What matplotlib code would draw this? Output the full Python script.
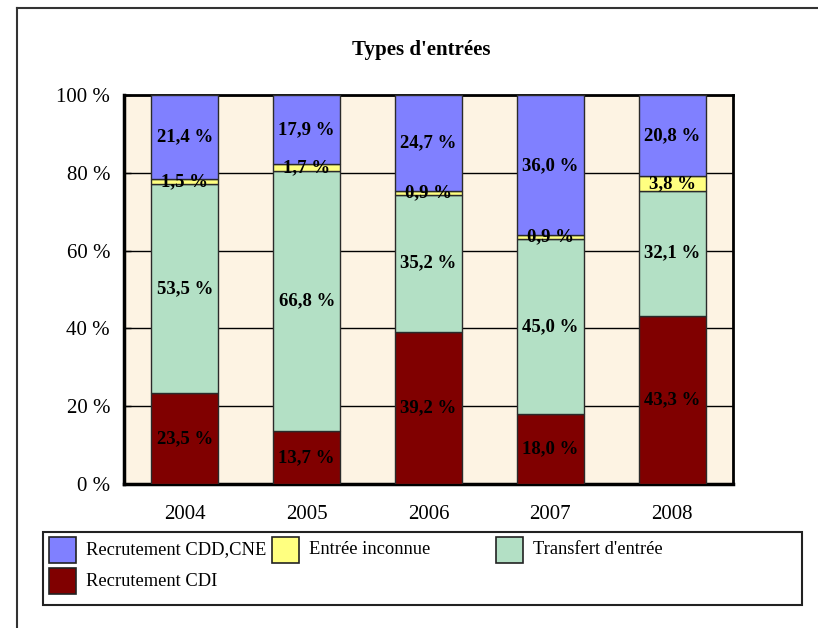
import matplotlib

matplotlib.use("Agg")
import matplotlib.pyplot as plt
import numpy as np
from matplotlib.patches import Rectangle
from matplotlib.lines import Line2D

# ── data ────────────────────────────────────────────────────────────────────
years = ["2004", "2005", "2006", "2007", "2008"]
recrut_cdi = [23.5, 13.7, 39.2, 18.0, 43.3]
transfert = [53.5, 66.8, 35.2, 45.0, 32.1]
inconnue = [1.5, 1.7, 0.9, 0.9, 3.8]
recrut_cdd = [21.4, 17.9, 24.7, 36.0, 20.8]
y_ticks = [0, 20, 40, 60, 80, 100]

# stacking order bottom -> top
series = [
    ("Recrutement CDI", recrut_cdi, "#800000"),
    ("Transfert d'entrée", transfert, "#B3E0C5"),
    ("Entrée inconnue", inconnue, "#FFFF80"),
    ("Recrutement CDD,CNE", recrut_cdd, "#8080FF"),
]
# legend order (row by row as in the original)
legend_order = ["Recrutement CDD,CNE", "Entrée inconnue", "Transfert d'entrée", "Recrutement CDI"]

FONT = "Liberation Serif"
W, H = 818, 628


def fx(px):
    return px / W


def fy(py):
    return 1 - py / H


fig = plt.figure(figsize=(W / 100, H / 100), dpi=100)
fig.patch.set_facecolor("white")

# outer frame (left + top lines)
fig.add_artist(Line2D([fx(17), fx(17)], [fy(8), 0], color="#333333", lw=1.5))
fig.add_artist(Line2D([fx(17), 1], [fy(8), fy(8)], color="#333333", lw=1.5))

ax = fig.add_axes([fx(124), fy(484), fx(733) - fx(124), fy(95) - fy(484)])
ax.set_facecolor("#FDF3E3")

x = np.arange(len(years))
bottom = np.zeros(len(years))
for name, vals, color in series:
    vals = np.array(vals)
    ax.bar(x, vals, width=0.55, bottom=bottom, color=color, edgecolor="#2a2a2a",
           linewidth=1.0, zorder=3)
    for xi, b, v in zip(x, bottom, vals):
        ax.text(xi, b + v / 2, f"{v:.1f} %".replace(".", ","), ha="center", va="center",
                fontsize=13.5, fontweight="bold", family=FONT, color="black", zorder=4)
    bottom += vals

ax.set_xlim(-0.5, len(years) - 0.5)
ax.set_ylim(0, 100)
ax.set_yticks(y_ticks)
ax.set_yticklabels([f"{t} %" for t in y_ticks], family=FONT, fontsize=15)
ax.set_xticks(x)
ax.set_xticklabels(years, family=FONT, fontsize=15)
ax.tick_params(axis="y", direction="in", length=5, width=1, pad=10)
ax.tick_params(axis="x", length=0, pad=15)
ax.grid(axis="y", color="black", lw=1.0, zorder=1)
ax.set_axisbelow(True)
for side in ["left", "bottom"]:
    ax.spines[side].set_linewidth(2.5)
for side in ["top", "right"]:
    ax.spines[side].set_linewidth(2.0)

fig.text(fx(421), fy(50), "Types d'entrées", ha="center", va="center",
         fontsize=15, fontweight="bold", family=FONT)

# legend box drawn by hand to keep the fixed column grid of the original
fig.add_artist(Rectangle((fx(43), fy(605)), fx(802) - fx(43), fy(532) - fy(605),
                         transform=fig.transFigure, facecolor="white",
                         edgecolor="#222222", lw=1.5))
colors = {name: color for name, _, color in series}
col_x = [49, 272, 496]
row_y = [537, 568]
for i, name in enumerate(legend_order):
    px = col_x[i % 3]
    py = row_y[i // 3]
    fig.add_artist(Rectangle((fx(px), fy(py + 26)), fx(27), 26 / H,
                             transform=fig.transFigure, facecolor=colors[name],
                             edgecolor="#222222", lw=1.2))
    fig.text(fx(px + 37), fy(py + 13), name, ha="left", va="center",
             fontsize=13.3, family=FONT)

fig.savefig("out.png", dpi=100)
